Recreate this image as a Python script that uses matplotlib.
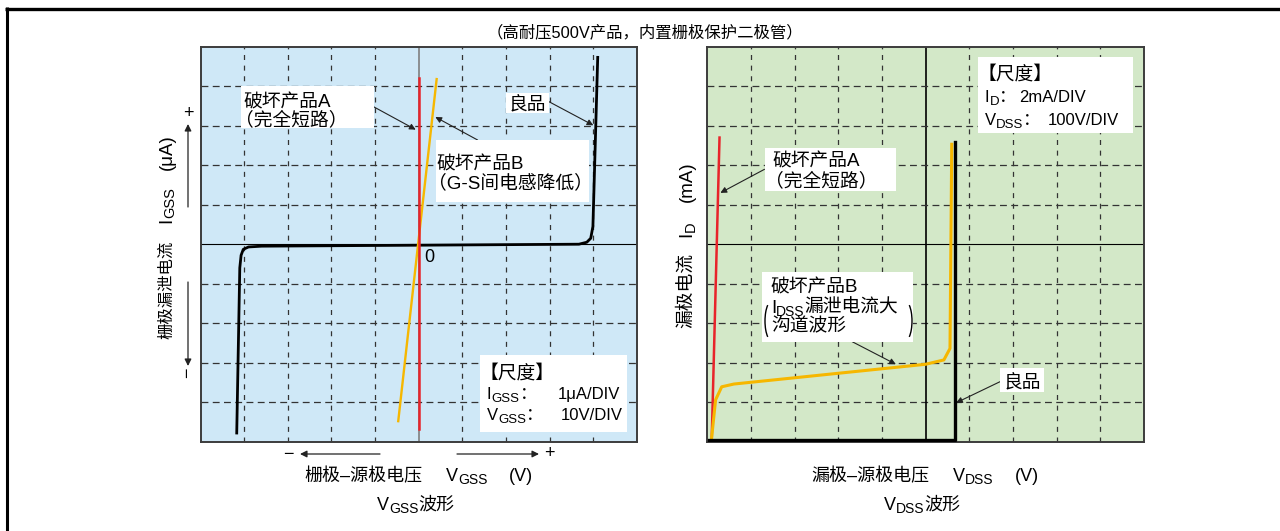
"""
MOSFET 静电破坏: V_GSS / V_DSS 曲线 (高耐压500V产品).
"""

import matplotlib
matplotlib.use("Agg")
import matplotlib.pyplot as plt
from matplotlib.patches import Rectangle, Arc
from matplotlib.lines import Line2D

plt.rcParams["font.family"] = ["Liberation Sans", "Noto Sans CJK SC"]

W, H = 1280, 531

# ---------------------------------------------------------------------------
# Daten: linke Grafik, V_GSS (V) gegen I_GSS (uA)
# ---------------------------------------------------------------------------
good_vgs = [-41.7, -41.0, -40.7, -40.2, -39.0, -36.0, 36.7, 38.5, 39.4, 39.9, 41.0]
good_igs = [-4.78, -0.60, -0.28, -0.13, -0.07, -0.05, 0.0, 0.05, 0.15, 0.45, 4.73]
a_vgs = [0.0, 0.0]
a_igs = [-4.69, 4.22]
b_vgs = [-4.7, 4.1]
b_igs = [-4.48, 4.18]

# ---------------------------------------------------------------------------
# Daten: rechte Grafik, V_DSS (V) gegen I_D (mA)
# ---------------------------------------------------------------------------
good_vds = [4, 567, 567]
good_id = [0.1, 0.1, 15.2]
a_vds = [10, 28]
a_id = [0.0, 15.4]
b_vds = [9, 19, 33, 61, 500, 542, 556, 560]
b_id = [0.0, 2.12, 2.78, 2.92, 3.92, 4.14, 4.72, 15.06]

RED = "#e8232a"
GOLD = "#f6b700"
NOTE = 13.5   # Schriftgroesse der Beschriftungen im Diagramm

fig = plt.figure(figsize=(W / 100, H / 100), dpi=100)


def fp(x, y):
    """Bildpixel (y von oben) -> figure fraction."""
    return x / W, 1 - y / H


def rich(x, y, parts, rot=0, size=NOTE):
    """Textstuecke nacheinander ab Grundlinie (x, y) zeichnen."""
    rend = fig.canvas.get_renderer()
    pos = 0.0
    for p in parts:
        if isinstance(p, str):
            p = (p, size)
        s, fs = p[0], p[1]
        drop = p[2] if len(p) > 2 else 0
        if rot == 0:
            tx, ty = x + pos, y + drop
        else:
            tx, ty = x + drop, y - pos
        t = fig.text(*fp(tx, ty), s, fontsize=fs, rotation=rot,
                     rotation_mode="anchor", ha="left", va="baseline")
        bb = t.get_window_extent(rend)
        pos += (bb.width if rot == 0 else bb.height)


def box(l, t, r, b):
    fig.add_artist(Rectangle(fp(l, b), (r - l) / W, (b - t) / H,
                             transform=fig.transFigure, facecolor="white",
                             edgecolor="none", zorder=1))


def pointer(ax, xy, tail):
    ax.annotate("", xy=xy, xycoords="data", xytext=fp(*tail),
                textcoords="figure fraction", annotation_clip=False,
                arrowprops=dict(arrowstyle="-|>", color="#222", lw=0.8,
                                mutation_scale=9, shrinkA=0, shrinkB=0))


def setup(ax, face, xlim, ylim, vcolor):
    ax.set_facecolor(face)
    ax.set_xlim(xlim)
    ax.set_ylim(ylim)
    ax.set_xticks([])
    ax.set_yticks([])
    for sp in ax.spines.values():
        sp.set_color("#3c3c3c")
        sp.set_linewidth(1.4)
    dx = (xlim[1] - xlim[0]) / 10
    dy = (ylim[1] - ylim[0]) / 10
    for i in range(1, 10):
        xv = xlim[0] + i * dx
        yv = ylim[0] + i * dy
        if i == 5:
            ax.axvline(xv, color=vcolor, lw=1.2, zorder=1)
            ax.axhline(yv, color="black", lw=0.8, zorder=1)
        else:
            ax.axvline(xv, color="#333", lw=0.9, ls=(0, (4, 4.5)), zorder=1)
            ax.axhline(yv, color="#333", lw=0.9, ls=(0, (5.5, 3.5)), zorder=1)


# Rahmen
fig.add_artist(Line2D([5 / W, 1], [1 - 8.5 / H] * 2, lw=2.4, color="black",
                      solid_capstyle="butt", transform=fig.transFigure))
fig.add_artist(Line2D([7.3 / W] * 2, [1 - 7 / H, 0], lw=2.2, color="black",
                      solid_capstyle="butt", transform=fig.transFigure))

fig.text(*fp(645, 32.5), "（高耐压500V产品，内置栅极保护二极管）",
         ha="center", va="center", fontsize=11.8)

# ---------------------------------------------------------------------------
# Linke Grafik
# ---------------------------------------------------------------------------
axL = fig.add_axes([200.5 / W, 1 - 441.7 / H, 436.5 / W, 395 / H])
setup(axL, "#cfe8f7", (-50, 50), (-5, 5), "#7f7f7f")
axL.plot(good_vgs, good_igs, color="black", lw=2.0, zorder=3)
axL.plot(b_vgs, b_igs, color=GOLD, lw=1.7, zorder=3)
axL.plot(a_vgs, a_igs, color=RED, lw=1.8, zorder=4)

pointer(axL, (-0.7, 2.90), (373.5, 106.7))
pointer(axL, (40.0, 3.01), (549, 101.7))
pointer(axL, (3.8, 3.22), (477.6, 140))

box(241, 86, 373.5, 128)
box(506, 93, 549, 113)
box(436, 140, 589, 202)
box(480, 355, 626.5, 432)

rich(243, 108, ["破坏产品A"])
rich(235, 125, ["（完全短路）"])
rich(509, 110, ["良品"])
rich(436, 170, ["破坏产品B"])
rich(428, 188, ["（G-S间电感降低）"])
rich(424, 262, [("0", 13)])

rich(480, 379, [("【尺度】", 13.5)])
rich(487, 399, [("I", 12), ("GSS", 9.5, 3), ("：", 12.5)])
rich(558, 399, [("1μA/DIV", 12)])
rich(487, 420, [("V", 12), ("GSS", 9.5, 3), ("：", 12.5)])
rich(561, 420, [("10V/DIV", 12)])

# Achsenbeschriftung links
rich(304, 481, [("栅极–源极电压", 13)])
rich(446, 481, [("V", 13), ("GSS", 10, 3)])
rich(509, 481, [("(V)", 13)])
rich(377, 510, [("V", 13), ("GSS", 10, 3), ("波形", 13)])

rich(171.7, 339, [("栅极漏泄电流", 11.8)], rot=90)
rich(171.7, 223, [("I", 13.5), ("GSS", 10.5, 3)], rot=90)
rich(171.7, 170, [("(μA)", 13.5)], rot=90)

arrow_kw = dict(arrowstyle="-|>", color="#222", lw=0.9, mutation_scale=10,
                shrinkA=0, shrinkB=0)
axL.annotate("", xy=fp(300, 454), xycoords="figure fraction",
             xytext=fp(380, 454), textcoords="figure fraction", arrowprops=arrow_kw)
axL.annotate("", xy=fp(539, 454), xycoords="figure fraction",
             xytext=fp(457, 454), textcoords="figure fraction", arrowprops=arrow_kw)
axL.annotate("", xy=fp(188, 124), xycoords="figure fraction",
             xytext=fp(188, 207), textcoords="figure fraction", arrowprops=arrow_kw)
axL.annotate("", xy=fp(188, 366), xycoords="figure fraction",
             xytext=fp(188, 282), textcoords="figure fraction", arrowprops=arrow_kw)
fig.text(*fp(288.5, 454), "−", ha="center", va="center", fontsize=13)
fig.text(*fp(549, 454), "+", ha="center", va="center", fontsize=13)
fig.text(*fp(188, 114), "+", ha="center", va="center", fontsize=13)
fig.text(*fp(188, 373), "−", ha="center", va="center", fontsize=13, rotation=90)

# ---------------------------------------------------------------------------
# Rechte Grafik
# ---------------------------------------------------------------------------
axR = fig.add_axes([707.3 / W, 1 - 441.7 / H, 436.5 / W, 395 / H])
setup(axR, "#d3e8c8", (0, 1000), (0, 20), "black")
axR.plot(a_vds, a_id, color=RED, lw=1.8, zorder=3)
axR.plot(b_vds, b_id, color=GOLD, lw=2.2, zorder=3, solid_joinstyle="round")
axR.plot(good_vds, good_id, color="black", lw=2.4, zorder=4)

pointer(axR, (30, 12.6), (764.5, 169.3))
pointer(axR, (432, 3.92), (852.2, 341.7))
pointer(axR, (570, 1.97), (1000, 381.7))

box(978, 57, 1133, 133)
box(764.5, 148, 895.5, 191)
box(762.3, 272.3, 913.3, 341.7)
box(1000, 368, 1044, 392)

rich(978, 80, [("【尺度】", 13.5)])
rich(985, 101.7, [("I", 12), ("D", 9.5, 3), ("：", 12.5)])
rich(1019, 101.7, [("2mA/DIV", 12)])
rich(985, 125, [("V", 12), ("DSS", 9.5, 3), ("：", 12.5)])
rich(1048, 125, [("100V/DIV", 12)])

rich(772, 166.7, ["破坏产品A"])
rich(765, 186, ["（完全短路）"])
rich(770, 293, ["破坏产品B"])
rich(771, 312.7, [("I", NOTE), ("DSS", 10, 3), "漏泄电流大"])
rich(771, 331, ["沟道波形"])
rich(1004, 388, ["良品"])

# grosse Klammern um Zeile 2-3
for cx, t1, t2 in [(772, 105, 255), (905, -75, 75)]:
    fig.add_artist(Arc((cx / 100, (H - 321) / 100), 0.14, 0.40,
                       theta1=t1, theta2=t2, transform=fig.dpi_scale_trans,
                       color="black", lw=1.0, zorder=2))

rich(811, 481, [("漏极–源极电压", 13)])
rich(953, 481, [("V", 13), ("DSS", 10, 3)])
rich(1015, 481, [("(V)", 13)])
rich(884, 510, [("V", 13), ("DSS", 10, 3), ("波形", 13)])

rich(691.5, 328.5, [("漏极电流", 13.5)], rot=90)
rich(691.5, 237, [("I", 13.5), ("D", 10.5, 3)], rot=90)
rich(691.5, 202, [("(mA)", 13.5)], rot=90)

fig.savefig("out.png", dpi=100)
